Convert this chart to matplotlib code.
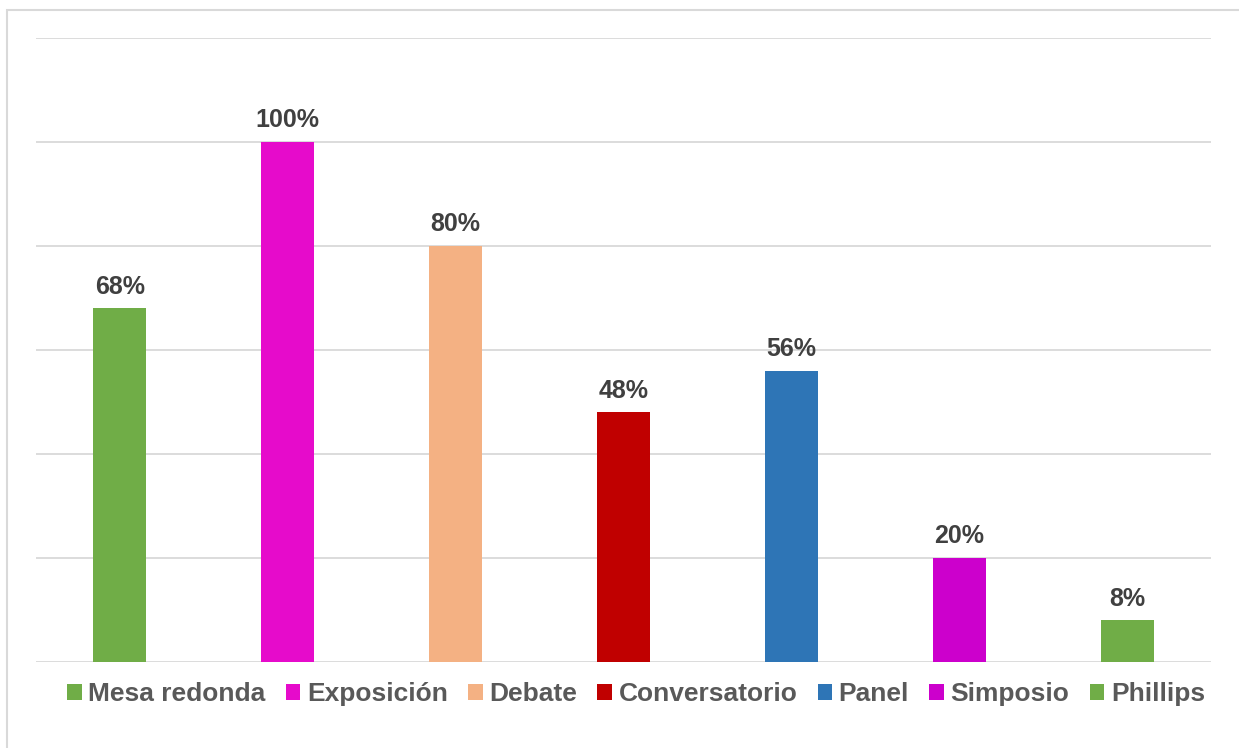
import matplotlib.pyplot as plt
from matplotlib.patches import Rectangle, Patch

categories = ['Mesa redonda', 'Exposición', 'Debate', 'Conversatorio', 'Panel', 'Simposio', 'Phillips']
values = [68, 100, 80, 48, 56, 20, 8]
colors = ['#70AD47', '#E60BCB', '#F4B183', '#C00000', '#2E75B6', '#CC00CC', '#70AD47']
labels = [f'{v}%' for v in values]

plt.rcParams['font.family'] = ['Liberation Sans', 'DejaVu Sans']

fig = plt.figure(figsize=(12.39, 7.48), dpi=100)
ax = fig.add_axes([36 / 1239, 1 - 662 / 748, 1175 / 1239, 624 / 748])

x = range(len(categories))
bars = ax.bar(x, values, width=0.316, color=colors, zorder=3)
ax.bar_label(bars, labels=labels, padding=7, fontsize=18, fontweight='bold', color='#404040')

ax.set_xlim(-0.5, len(categories) - 0.5)
ax.set_ylim(0, 120)
ax.set_yticks(range(0, 121, 20))
ax.grid(axis='y', color='#D9D9D9', linewidth=1.3, zorder=0)
ax.set_xticks([])
ax.tick_params(axis='y', length=0, labelleft=False)
for side in ['top', 'right', 'left', 'bottom']:
    ax.spines[side].set_visible(False)

# chart border
fig.patches.append(Rectangle((7 / 1239, -0.05), 1.1, 1 - 10 / 748 + 0.05,
                             transform=fig.transFigure, fill=False,
                             edgecolor='#D9D9D9', linewidth=1.5))

handles = [Patch(facecolor=c) for c in colors]
fig.legend(handles, categories, loc='center', bbox_to_anchor=(636 / 1239, 1 - 694 / 748),
           ncol=7, frameon=False, prop={'size': 19, 'weight': 'bold'}, labelcolor='#595959',
           handlelength=0.55, handleheight=0.55, handletextpad=0.25, columnspacing=0.77,
           borderpad=0)

fig.savefig('out.png', dpi=100)
